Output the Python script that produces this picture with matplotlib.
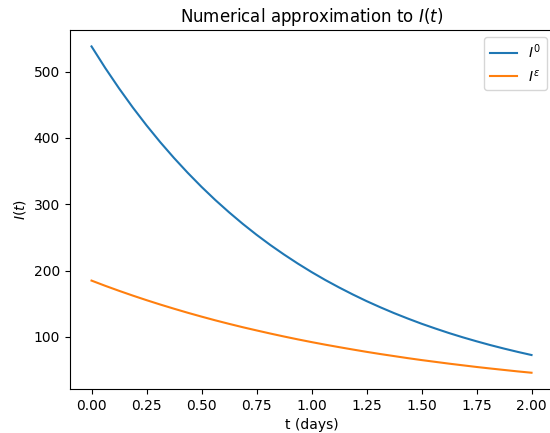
import matplotlib
matplotlib.use("Agg")
import matplotlib.pyplot as plt

# values, every 1/16 day
t = [0.0, 0.0625, 0.125, 0.1875, 0.25, 0.3125, 0.375, 0.4375, 0.5,
     0.5625, 0.625, 0.6875, 0.75, 0.8125, 0.875, 0.9375, 1.0,
     1.0625, 1.125, 1.1875, 1.25, 1.3125, 1.375, 1.4375, 1.5,
     1.5625, 1.625, 1.6875, 1.75, 1.8125, 1.875, 1.9375, 2.0]
I0 = [538.0, 505.4, 474.8, 446.0, 419.0, 393.6, 369.8, 347.4, 326.3,
      306.5, 288.0, 270.5, 254.1, 238.7, 224.3, 210.7, 197.9,
      185.9, 174.7, 164.1, 154.1, 144.8, 136.0, 127.8, 120.0,
      112.8, 105.9, 99.5, 93.5, 87.8, 82.5, 77.5, 72.8]
Ieps = [185.0, 177.1, 169.6, 162.4, 155.5, 148.9, 142.6, 136.5, 130.7,
        125.1, 119.8, 114.7, 109.9, 105.2, 100.7, 96.4, 92.3,
        88.4, 84.7, 81.1, 77.6, 74.3, 71.2, 68.1, 65.2,
        62.5, 59.8, 57.3, 54.8, 52.5, 50.3, 48.1, 46.1]

fig = plt.figure(figsize=(5.5, 4.33), dpi=100)
ax = fig.add_axes([0.1264, 0.1015, 0.88, 0.829])

ax.plot(t, I0, label=r'$I^0$')
ax.plot(t, Ieps, label=r'$I^\varepsilon$')
ax.set_xticks([0, 0.25, 0.5, 0.75, 1.0, 1.25, 1.5, 1.75, 2.0])
ax.set_xlabel('t (days)')
ax.set_ylabel(r'$I(t)$')
ax.set_title(r'Numerical approximation to $I(t)$')
ax.legend(loc='upper right')

fig.savefig('out.png', dpi=100)
